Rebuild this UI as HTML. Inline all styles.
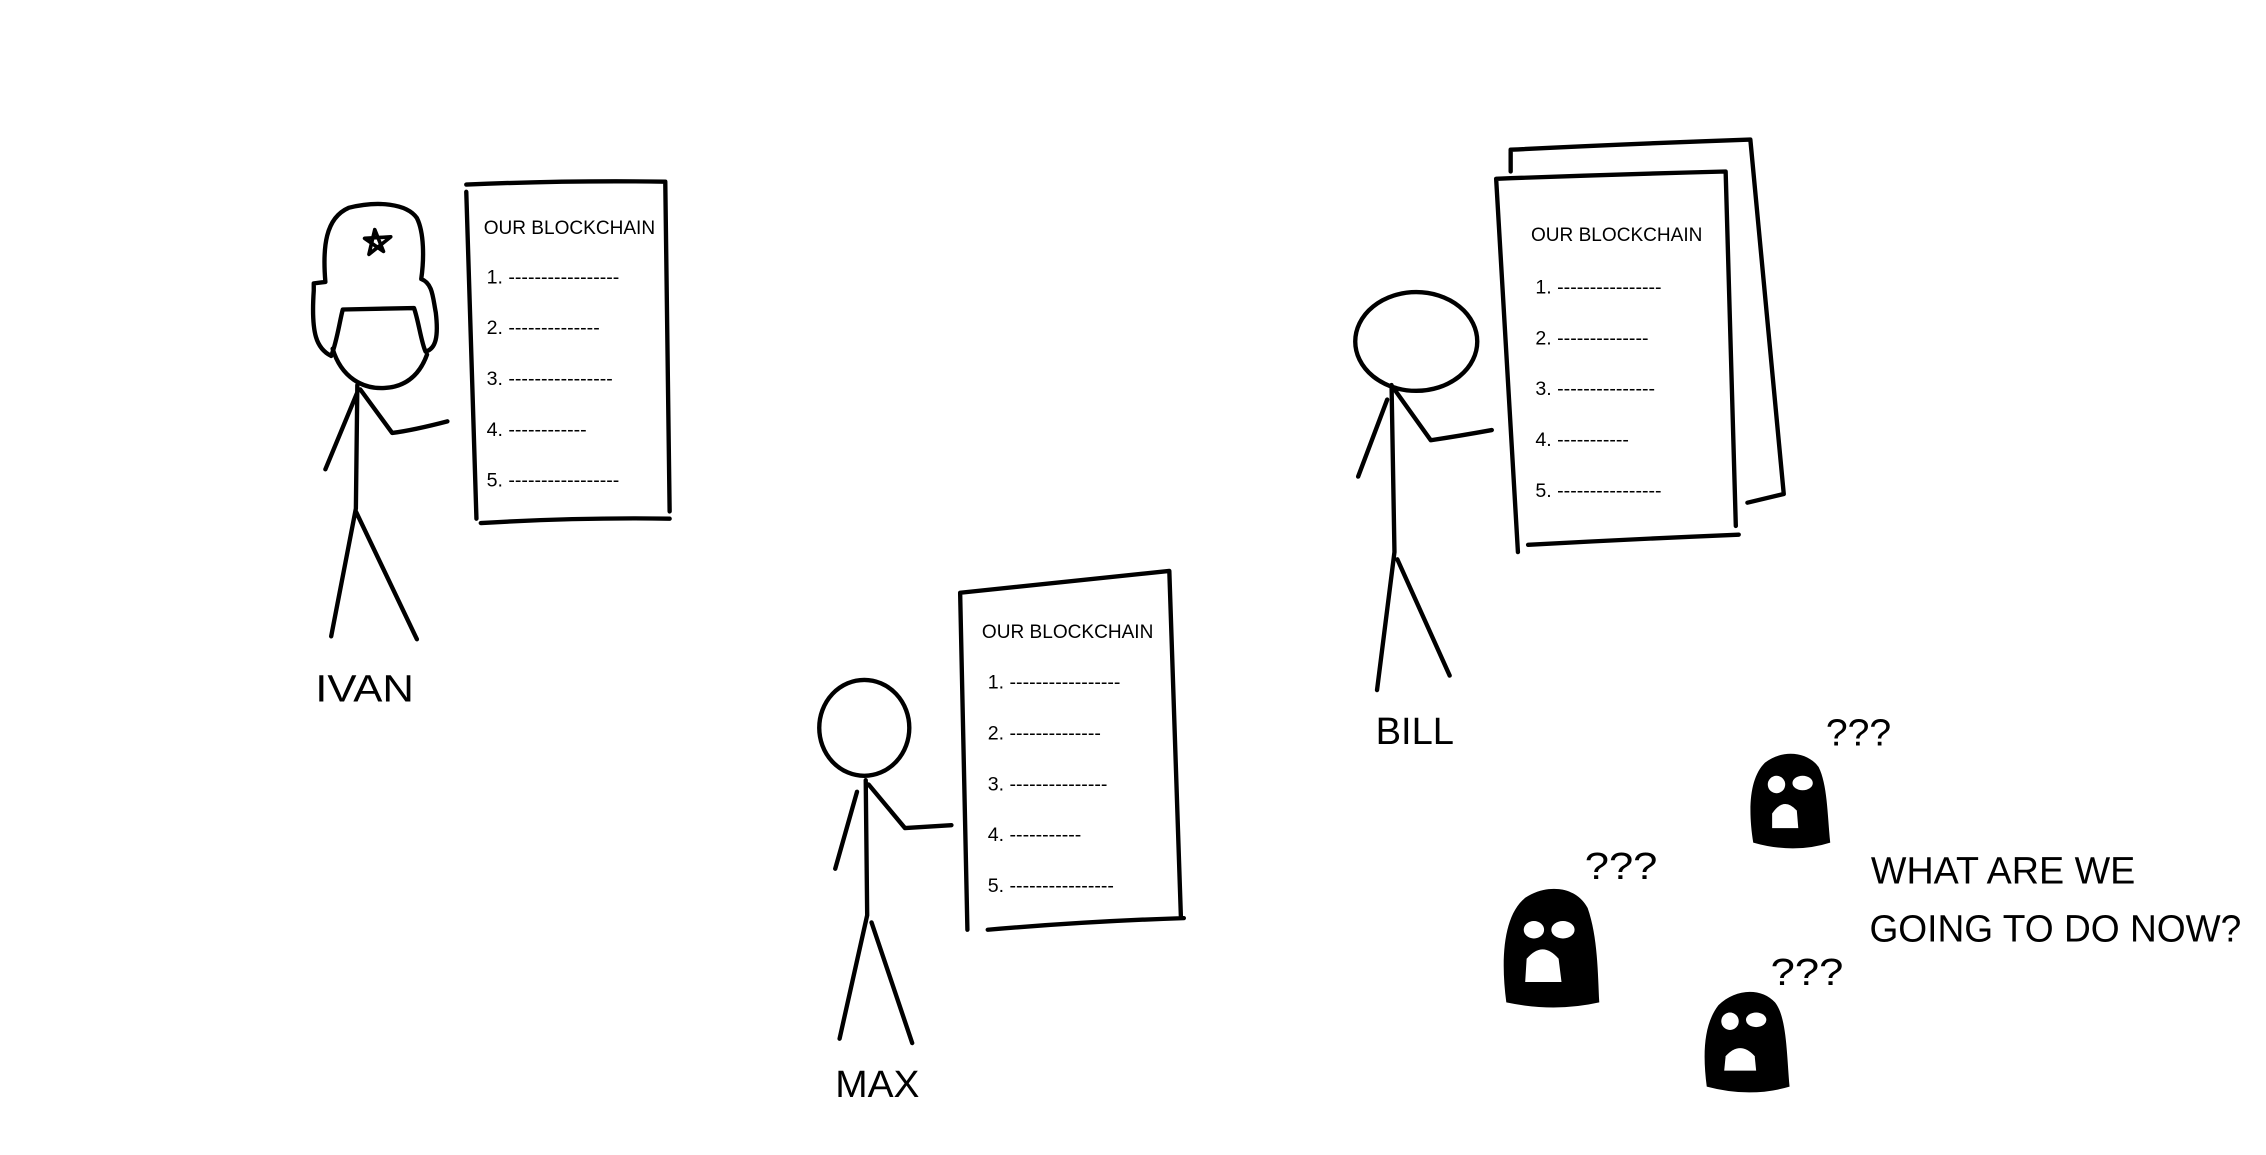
<!DOCTYPE html>
<html><head><meta charset="utf-8"><style>
html,body{margin:0;padding:0;background:#fff}
svg{display:block}
text{font-family:"Liberation Sans",sans-serif;fill:#000}
</style></head><body>
<svg width="2266" height="1155" viewBox="0 0 1560 795" xmlns="http://www.w3.org/2000/svg">
<g fill="none" stroke="#000" stroke-width="3" stroke-linecap="round" stroke-linejoin="round">
<!-- IVAN -->
<path d="M228,245 C218,240 214,230 216,200 L216,195 L224,194 C222,170 224,150 240,143 C260,138 280,140 287,150 C292,160 292,178 290,192 C298,195 298,205 300,215 C302,232 300,240 293,242 C290,236 288,220 285,212 L236,213 C234,220 232,235 228,245 Z"/>
<path d="M229,240 C235,260 250,268 265,267 C282,266 290,255 294,244"/>
<path d="M254,175 L258,158 L264,173 L251,164 L269,163 Z" stroke-width="2.5"/>
<path d="M246,265 L245,350 M246,270 L224,323 M248,268 L270,298 Q285,296 308,290 M245,350 L228,438 M245,352 L287,440"/>
<path d="M321,127 Q390,124 458,125 L461,352 M331,360 Q400,356 461,357 M321,132 L328,357"/>
<!-- MAX -->
<ellipse cx="595" cy="501" rx="31" ry="33"/>
<path d="M596,537 L597,630 M590,545 L575,598 M598,540 L623,570 Q640,569 655,568 M597,630 L578,715 M600,635 L628,718"/>
<path d="M661,408 Q735,400 805,393 L813,632 M680,640 Q750,634 815,632 M661,408 L666,640"/>
<!-- BILL -->
<ellipse cx="975" cy="235" rx="42" ry="34"/>
<path d="M958,265 L960,380 M955,275 L935,328 M960,268 L985,303 Q1005,300 1027,296 M960,380 L948,475 M962,385 L998,465"/>
<path d="M1030,123 Q1110,120 1188,118 L1195,362 M1052,375 Q1125,371 1197,368 M1030,123 L1045,380"/>
<path d="M1040,118 L1040,103 Q1120,99 1205,96 L1228,340 L1203,346"/>
</g>
<g font-size="13.5">
<text x="333" y="161" textLength="118" lengthAdjust="spacingAndGlyphs">OUR BLOCKCHAIN</text>
<text x="335" y="195">1. -----------------</text>
<text x="335" y="230">2. --------------</text>
<text x="335" y="265">3. ----------------</text>
<text x="335" y="300">4. ------------</text>
<text x="335" y="335">5. -----------------</text>
<text x="676" y="439" textLength="118" lengthAdjust="spacingAndGlyphs">OUR BLOCKCHAIN</text>
<text x="680" y="474">1. -----------------</text>
<text x="680" y="509">2. --------------</text>
<text x="680" y="544">3. ---------------</text>
<text x="680" y="579">4. -----------</text>
<text x="680" y="614">5. ----------------</text>
<text x="1054" y="166" textLength="118" lengthAdjust="spacingAndGlyphs">OUR BLOCKCHAIN</text>
<text x="1057" y="202">1. ----------------</text>
<text x="1057" y="237">2. --------------</text>
<text x="1057" y="272">3. ---------------</text>
<text x="1057" y="307">4. -----------</text>
<text x="1057" y="342">5. ----------------</text>
</g>
<g font-size="26">
<text x="217" y="483" textLength="68" lengthAdjust="spacingAndGlyphs">IVAN</text>
<text x="575" y="755" textLength="58" lengthAdjust="spacingAndGlyphs">MAX</text>
<text x="947" y="512" textLength="54" lengthAdjust="spacingAndGlyphs">BILL</text>
</g>
<!-- masks -->
<g>
<path d="M1037,690 C1033,660 1035,630 1050,618 C1065,608 1085,610 1093,625 C1100,645 1100,670 1101,690 Q1070,697 1037,690 Z" fill="#000"/>
<ellipse cx="1056" cy="640" rx="7" ry="6" fill="#fff"/><ellipse cx="1076" cy="640" rx="8" ry="6" fill="#fff"/>
<path d="M1050,676 L1051,660 Q1062,647 1073,660 L1075,676 Z" fill="#fff"/>
<path d="M1207,580 C1203,555 1205,535 1215,525 C1228,515 1245,518 1252,528 C1258,540 1258,560 1260,580 Q1235,588 1207,580 Z" fill="#000"/>
<ellipse cx="1223" cy="540" rx="6" ry="6" fill="#fff"/><ellipse cx="1241" cy="539" rx="7" ry="5" fill="#fff"/>
<path d="M1220,570 L1220,560 Q1228,548 1237,558 L1238,570 Z" fill="#fff"/>
<path d="M1175,748 C1172,725 1173,705 1183,692 C1195,680 1213,680 1222,690 C1230,700 1230,725 1232,748 Q1205,756 1175,748 Z" fill="#000"/>
<ellipse cx="1191" cy="703" rx="6" ry="6" fill="#fff"/><ellipse cx="1209" cy="702" rx="7" ry="5" fill="#fff"/>
<path d="M1187,737 L1188,727 Q1198,716 1208,727 L1209,737 Z" fill="#fff"/>
</g>
<g font-size="26">
<text x="1091" y="605" textLength="50" lengthAdjust="spacingAndGlyphs">???</text>
<text x="1257" y="513" textLength="45" lengthAdjust="spacingAndGlyphs">???</text>
<text x="1219" y="678" textLength="50" lengthAdjust="spacingAndGlyphs">???</text>
<text x="1288" y="608" textLength="182" lengthAdjust="spacingAndGlyphs">WHAT ARE WE</text>
<text x="1287" y="648" textLength="256" lengthAdjust="spacingAndGlyphs">GOING TO DO NOW?</text>
</g>
</svg>
</body></html>
